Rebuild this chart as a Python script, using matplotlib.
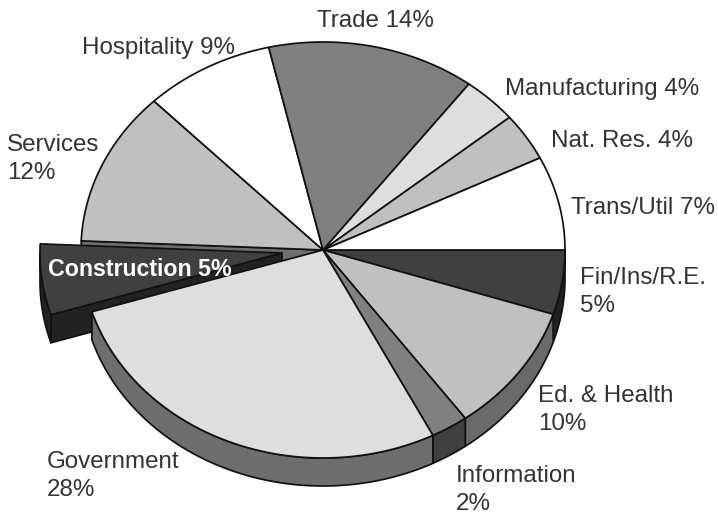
import numpy as np
import matplotlib
matplotlib.use("Agg")
import matplotlib.pyplot as plt
from matplotlib.patches import Polygon

# shares, clockwise from 3 o'clock
sectors = ["Fin/Ins/R.E.", "Ed. & Health", "Information", "Government", "Construction",
           "Services", "Hospitality", "Trade", "Manufacturing", "Nat. Res.", "Trans/Util"]
shares = [5.0, 10.0, 2.5, 27.7, 5.5, 12.0, 8.7, 13.9, 3.7, 3.7, 7.3]
top_colors = ["#404040", "#c0c0c0", "#808080", "#dedede", "#404040",
              "#c0c0c0", "#ffffff", "#808080", "#dedede", "#c0c0c0", "#ffffff"]
side_colors = ["#222222", "#6a6a6a", "#404040", "#6e6e6e", "#222222",
               "#6e6e6e", "#6e6e6e", "#6e6e6e", "#6e6e6e", "#6e6e6e", "#6e6e6e"]
labels = ["Fin/Ins/R.E.\n5%", "Ed. & Health\n10%", "Information\n2%", "Government\n28%",
          "Construction 5%", "Services\n12%", "Hospitality 9%", "Trade 14%",
          "Manufacturing 4%", "Nat. Res. 4%", "Trans/Util 7%"]
# baseline of the last line of each label
label_pos = [(580, 312), (538, 430), (456, 510), (47, 496), (48, 276), (7, 179),
             (82, 54), (317, 27), (505, 95), (551, 147), (571, 214)]

CX, CY = 323, 250
RX, RY = 242, 208
DEPTH = 28
EXPLODE = 4  # index of pulled out slice
OFFSET = (-41, 3)
LW = 1.25

plt.rcParams["font.family"] = ["Liberation Sans", "DejaVu Sans"]

fig = plt.figure(figsize=(7.18, 5.15), dpi=100)
ax = fig.add_axes([0, 0, 1, 1])
ax.set_xlim(0, 718)
ax.set_ylim(515, 0)
ax.axis("off")


def arc(t0, t1, dx=0, dy=0):
    """points on the ellipse, angles in degrees clockwise from 3 o'clock"""
    t = np.radians(np.linspace(t0, t1, 80))
    return np.column_stack((CX + dx + RX * np.cos(t), CY + dy + RY * np.sin(t)))


def poly(pts, color, lw=LW):
    ax.add_patch(Polygon(pts, closed=True, facecolor=color, edgecolor="#111111",
                         linewidth=lw, joinstyle="round"))


def top_face(t0, t1, color, dx=0, dy=0):
    poly(np.vstack(([[CX + dx, CY + dy]], arc(t0, t1, dx, dy))), color)


def outer_wall(t0, t1, color, dx=0, dy=0):
    a = arc(t0, t1, dx, dy)
    b = a[::-1] + [0, DEPTH]
    poly(np.vstack((a, b)), color)


def cut_wall(t, color, dx=0, dy=0):
    p = arc(t, t, dx, dy)[0]
    c = np.array([CX + dx, CY + dy])
    poly([c, p, p + [0, DEPTH], c + [0, DEPTH]], color)


edges = np.cumsum([0] + shares) * 3.6

# wall seen through the gap left by the pulled out slice
cut_wall(edges[EXPLODE + 1], side_colors[EXPLODE + 1])

# pulled out slice goes under the rest
dx, dy = OFFSET
cut_wall(edges[EXPLODE], side_colors[EXPLODE], dx, dy)
outer_wall(edges[EXPLODE], 180, side_colors[EXPLODE], dx, dy)
top_face(edges[EXPLODE], edges[EXPLODE + 1], top_colors[EXPLODE], dx, dy)

for i in range(EXPLODE):
    outer_wall(edges[i], min(edges[i + 1], 180), side_colors[i])

for i in range(len(shares)):
    if i != EXPLODE:
        top_face(edges[i], edges[i + 1], top_colors[i])

for i, lab in enumerate(labels):
    x, y = label_pos[i]
    if i == EXPLODE:
        ax.text(x, y, lab, color="white", fontsize=16.7, fontweight="bold", va="baseline")
    else:
        ax.text(x, y, lab, color="#333333", fontsize=17.4, va="baseline", linespacing=1.36)

fig.savefig("out.png", dpi=100)
